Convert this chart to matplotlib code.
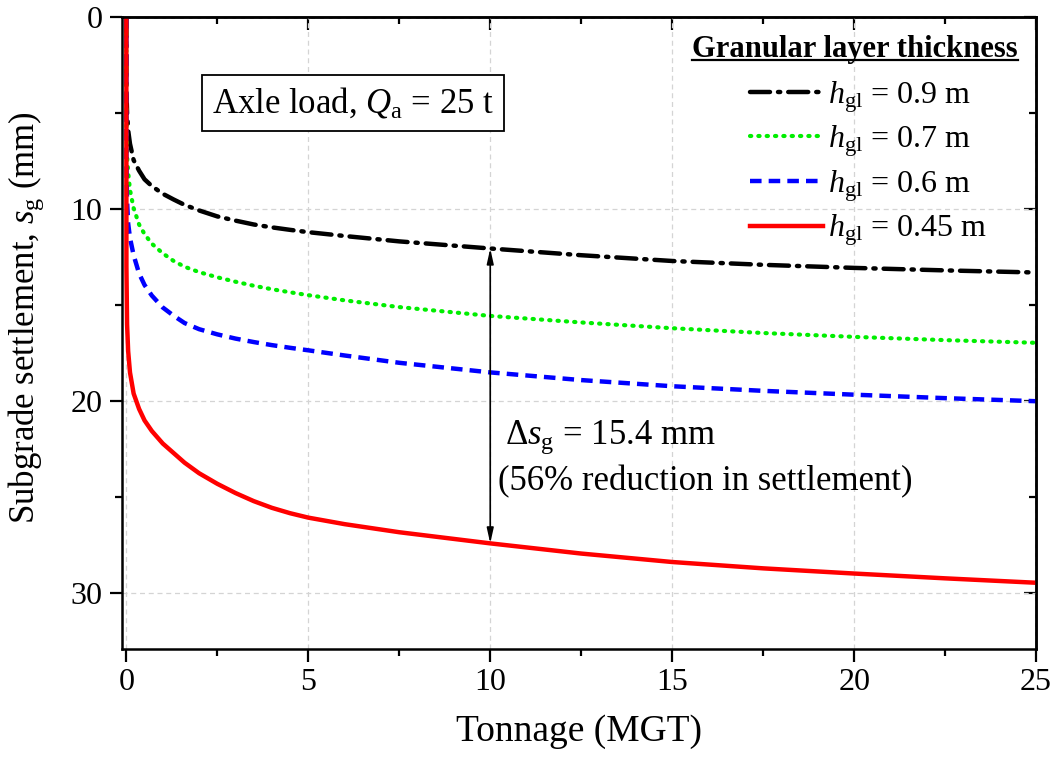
import matplotlib
matplotlib.use("Agg")
import matplotlib.pyplot as plt
from matplotlib.lines import Line2D

plt.rcParams["font.family"] = ["Liberation Serif", "DejaVu Serif"]
plt.rcParams["mathtext.fontset"] = "custom"
plt.rcParams["mathtext.rm"] = "Liberation Serif"
plt.rcParams["mathtext.it"] = "Liberation Serif:italic"
plt.rcParams["mathtext.bf"] = "Liberation Serif:bold"

# Tonnage (MGT) and subgrade settlement (mm) for each granular layer thickness
tonnage = [0, 0.002, 0.02, 0.05, 0.1, 0.2, 0.35, 0.5, 0.7, 1, 1.3, 1.6, 2,
           2.5, 3, 3.5, 4, 4.5, 5, 6, 7.5, 10, 12.5, 15, 17.5, 20, 22.5, 25]
s_090 = [0, 3.8, 5.0, 5.9, 6.6, 7.45, 8.0, 8.45, 8.8, 9.2, 9.5, 9.78, 10.07,
         10.38, 10.6, 10.8, 10.95, 11.08, 11.2, 11.4, 11.68, 12.05, 12.4,
         12.7, 12.9, 13.06, 13.19, 13.3]
s_070 = [0, 5.5, 7.2, 8.1, 9.0, 9.95, 10.8, 11.3, 11.8, 12.3, 12.7, 13.0,
         13.28, 13.55, 13.78, 13.99, 14.17, 14.33, 14.48, 14.75, 15.1, 15.56,
         15.9, 16.2, 16.45, 16.65, 16.82, 16.96]
s_060 = [0, 7.5, 9.6, 10.75, 11.5, 12.4, 13.35, 13.95, 14.5, 15.12, 15.55,
         15.93, 16.25, 16.52, 16.74, 16.92, 17.08, 17.22, 17.35, 17.62, 18.0,
         18.5, 18.9, 19.22, 19.46, 19.66, 19.84, 20.0]
s_045 = [0, 13.0, 16.0, 17.4, 18.5, 19.6, 20.4, 21.0, 21.55, 22.2, 22.7,
         23.2, 23.75, 24.3, 24.78, 25.2, 25.55, 25.83, 26.06, 26.4, 26.82,
         27.4, 27.93, 28.37, 28.7, 28.97, 29.22, 29.45]

labels = [r"$h_\mathrm{gl}$ = 0.9 m", r"$h_\mathrm{gl}$ = 0.7 m",
          r"$h_\mathrm{gl}$ = 0.6 m", r"$h_\mathrm{gl}$ = 0.45 m"]
legend_title = "Granular layer thickness"
x_ticks = [0, 5, 10, 15, 20, 25]
x_minor = [2.5, 7.5, 12.5, 17.5, 22.5]
y_ticks = [0, 10, 20, 30]
y_minor = [5, 15, 25]

W, H = 1057, 766
fig = plt.figure(figsize=(W / 100, H / 100), dpi=100)
ax = fig.add_axes([0.1154, 0.1527, 0.8648, 0.8251])

ax.plot(tonnage, s_090, color="black", lw=3.2,
        linestyle=(0, (4.5, 1.8, 0.5, 1.8)), dash_capstyle="round", label=labels[0])
ax.plot(tonnage, s_070, color="#00ee00", lw=3.0,
        linestyle=(0, (0.3, 1.7)), dash_capstyle="round", label=labels[1])
ax.plot(tonnage, s_060, color="#0000ff", lw=3.2,
        linestyle=(0, (2.6, 1.6)), label=labels[2])
ax.plot(tonnage, s_045, color="#ff0000", lw=3.2, label=labels[3])

ax.set_xlim(-0.12, 25)
ax.set_ylim(32.9, 0)
ax.set_xticks(x_ticks)
ax.set_yticks(y_ticks)
ax.set_xticks(x_minor, minor=True)
ax.set_yticks(y_minor, minor=True)
ax.grid(True, which="major", linestyle=(0, (4, 3)), color="#d4d4d4", lw=0.9)
ax.set_axisbelow(True)

for sp in ax.spines.values():
    sp.set_linewidth(1.8)
ax.tick_params(which="both", direction="out", width=1.6, labelsize=23, pad=5)
ax.tick_params(which="major", length=9)
ax.tick_params(which="minor", length=5)

# mirrored inward ticks on top and right
top = ax.secondary_xaxis("top")
top.set_xticks(x_ticks)
top.set_xticks(x_minor, minor=True)
top.tick_params(which="both", direction="in", width=1.6, labeltop=False)
top.tick_params(which="major", length=9)
top.tick_params(which="minor", length=5)
right = ax.secondary_yaxis("right")
right.set_yticks(y_ticks)
right.set_yticks(y_minor, minor=True)
right.tick_params(which="both", direction="in", width=1.6, labelright=False)
right.tick_params(which="major", length=9)
right.tick_params(which="minor", length=5)
for sec in (top, right):
    for sp in sec.spines.values():
        sp.set_linewidth(1.8)

ax.set_xlabel("Tonnage (MGT)", fontsize=27, labelpad=12)
ax.set_ylabel(r"Subgrade settlement, $s_\mathrm{g}$ (mm)", fontsize=25)
ax.yaxis.set_label_coords(-0.083, 0.524)

ax.text((353 - 122) / 914, 1 - (103 - 17) / 632, r"Axle load, $Q_\mathrm{a}$ = 25 t",
        transform=ax.transAxes, fontsize=25, ha="center", va="center",
        bbox=dict(boxstyle="square,pad=0.3", fc="white", ec="black", lw=1.3))

ax.annotate("", xy=(10, s_090[21]), xytext=(10, s_045[21]),
            arrowprops=dict(arrowstyle="<|-|>,head_width=0.2,head_length=0.9",
                            color="black", lw=1.2, shrinkA=0, shrinkB=0))
ax.text(10.4, 21.85, r"$\Delta s_\mathrm{g}$ = 15.4 mm", fontsize=25,
        ha="left", va="center")
ax.text(10.2, 24.2, "(56% reduction in settlement)", fontsize=25,
        ha="left", va="center")

leg = ax.legend(loc="upper left", bbox_to_anchor=(750 / W, 1 - 79 / H),
                bbox_transform=fig.transFigure, frameon=False,
                fontsize=23, handlelength=2.29, handletextpad=0.15,
                labelspacing=0.28, borderaxespad=0, borderpad=0)

ttl = fig.text(855 / W, 1 - 49 / H, legend_title, fontsize=22, fontweight="bold",
               ha="center", va="center")

fig.canvas.draw()
bb = ttl.get_window_extent(fig.canvas.get_renderer())
inv = fig.transFigure.inverted()
(x0, y0), (x1, _) = inv.transform([(bb.x0, bb.y0), (bb.x1, bb.y0)])
fig.add_artist(Line2D([x0, x1], [y0 + 0.005, y0 + 0.005], transform=fig.transFigure,
                      color="black", lw=1.6))

fig.savefig("out.png", dpi=100)
